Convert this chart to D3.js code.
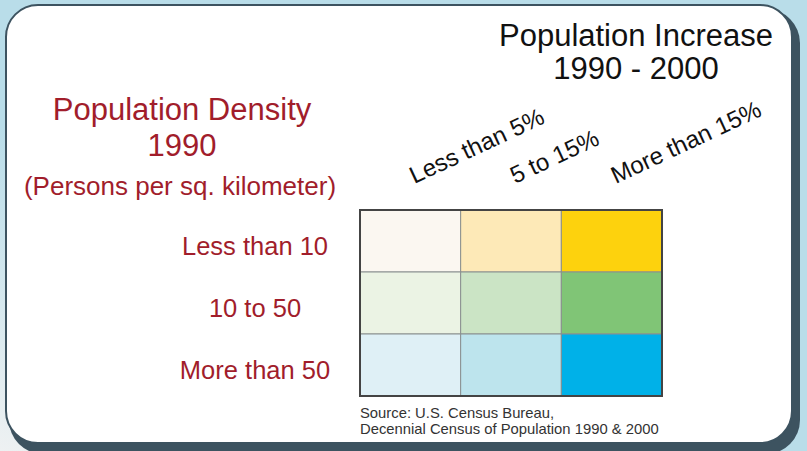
<!DOCTYPE html>
<html>
<head>
<meta charset="utf-8">
<script src="https://cdn.jsdelivr.net/npm/d3@7"></script>
<style>
html,body{margin:0;padding:0;background:#fff;}
svg{display:block;}
</style>
</head>
<body>
<script>
// ---- data ----
const increaseCategories = ["Less than 5%", "5 to 15%", "More than 15%"];
const densityCategories = ["Less than 10", "10 to 50", "More than 50"];
const cellColors = [
  ["#fbf7f1", "#fde9b7", "#fdd20d"],
  ["#ebf3e4", "#cbe4c5", "#80c576"],
  ["#dff0f6", "#bde4ed", "#00b1e8"]
];
const titleIncrease = ["Population Increase", "1990 - 2000"];
const titleDensity = ["Population Density", "1990"];
const densityUnit = "(Persons per sq. kilometer)";
const sourceLines = ["Source: U.S. Census Bureau,", "Decennial Census of Population 1990 & 2000"];

const W = 807, H = 451;
const font = "'Liberation Sans', Arial, Helvetica, sans-serif";
const red = "#a11d2b";

const svg = d3.select("body").append("svg").attr("width", W).attr("height", H);
const defs = svg.append("defs");
const g = defs.append("linearGradient").attr("id", "bg").attr("x1", "0").attr("y1", "1").attr("x2", "0.35").attr("y2", "0.55");
g.append("stop").attr("offset", "0").attr("stop-color", "#eef1f2");
g.append("stop").attr("offset", "1").attr("stop-color", "#b9dde9");

svg.append("rect").attr("width", W).attr("height", H).attr("fill", "url(#bg)");

// panel shadow + panel
svg.append("rect").attr("x", 9).attr("y", 9).attr("width", 791).attr("height", 445)
  .attr("rx", 34).attr("fill", "#3d5360");
svg.append("rect").attr("x", 6).attr("y", 5).attr("width", 786).attr("height", 438)
  .attr("rx", 32).attr("fill", "#ffffff").attr("stroke", "#3d5360").attr("stroke-width", 2);

// scales
const x = d3.scaleBand().domain(increaseCategories).range([360, 662]).padding(0);
const y = d3.scaleBand().domain(densityCategories).range([210, 396]).padding(0);

// cells
const cells = [];
densityCategories.forEach((r, i) => increaseCategories.forEach((c, j) => cells.push({r, c, color: cellColors[i][j]})));
svg.append("g").selectAll("rect").data(cells).join("rect")
  .attr("x", d => x(d.c)).attr("y", d => y(d.r))
  .attr("width", x.bandwidth()).attr("height", y.bandwidth())
  .attr("fill", d => d.color).attr("stroke", "#8a8f8f").attr("stroke-width", 1);
svg.append("rect").attr("x", 360).attr("y", 210).attr("width", 302).attr("height", 186)
  .attr("fill", "none").attr("stroke", "#444").attr("stroke-width", 2);

// titles
svg.append("text").attr("font-family", font).attr("font-size", 31).attr("fill", "#111")
  .attr("text-anchor", "middle")
  .selectAll("tspan").data(titleIncrease).join("tspan")
  .attr("x", 636).attr("y", (d, i) => 46 + i * 33).text(d => d);

svg.append("text").attr("font-family", font).attr("font-size", 31).attr("fill", red)
  .attr("text-anchor", "middle")
  .selectAll("tspan").data(titleDensity).join("tspan")
  .attr("x", 182).attr("y", (d, i) => 120 + i * 36).text(d => d);

svg.append("text").attr("font-family", font).attr("font-size", 26).attr("fill", red)
  .attr("text-anchor", "middle").attr("x", 180).attr("y", 195).text(densityUnit);

// row labels
svg.append("g").selectAll("text").data(densityCategories).join("text")
  .attr("font-family", font).attr("font-size", 25.5).attr("fill", red)
  .attr("text-anchor", "middle")
  .attr("x", 255).attr("y", d => y(d) + y.bandwidth() / 2 + 14).text(d => d);

// column labels (rotated)
svg.append("g").selectAll("text").data(increaseCategories).join("text")
  .attr("font-family", font).attr("font-size", 24).attr("fill", "#111")
  .attr("text-anchor", "start")
  .attr("transform", d => `translate(${x(d) + x.bandwidth() / 2 + 4},184) rotate(-25)`)
  .text(d => d);

// source
svg.append("text").attr("font-family", font).attr("font-size", 14.8).attr("fill", "#333")
  .selectAll("tspan").data(sourceLines).join("tspan")
  .attr("x", 360).attr("y", (d, i) => 418 + i * 16).text(d => d);
</script>
</body>
</html>
